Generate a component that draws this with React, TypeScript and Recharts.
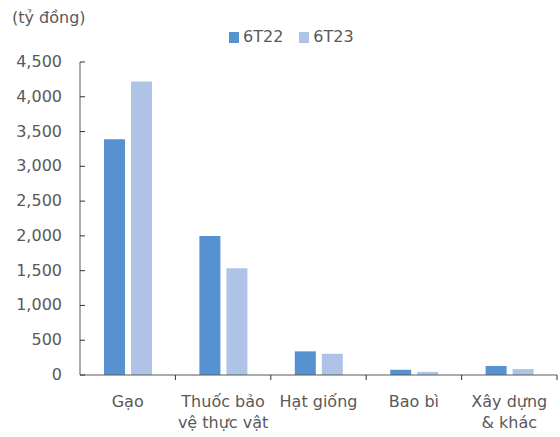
import { BarChart, Bar, XAxis, YAxis } from 'recharts'

const categories = ['Gạo', 'Thuốc bảo\nvệ thực vật', 'Hạt giống', 'Bao bì', 'Xây dựng\n& khác']
const values6T22 = [3390, 2000, 340, 75, 130]
const values6T23 = [4220, 1535, 305, 45, 85]
const yTicks = [0, 500, 1000, 1500, 2000, 2500, 3000, 3500, 4000, 4500]
const seriesNames = ['6T22', '6T23']
const seriesColors = ['#5592CF', '#AEC3E6']
const unitLabel = '(tỷ đồng)'

const data = categories.map((c, i) => ({ name: c, a: values6T22[i], b: values6T23[i] }))

const TEXT = '#595959'
const FONT = '"DejaVu Sans", Verdana, sans-serif'

function YTick(props: any) {
  const { x, y, payload } = props
  return (
    <g>
      <line x1={x} y1={y} x2={x + 5} y2={y} stroke="#333" strokeWidth={1} />
      <text x={x - 18} y={y} dy={5} textAnchor="end" fill={TEXT} fontSize={16} fontFamily={FONT}>
        {Number(payload.value).toLocaleString('en-US')}
      </text>
    </g>
  )
}

function XTick(props: any) {
  const { x, y, payload } = props
  const half = payload.offset ?? 47.7
  const lines = String(payload.value).split('\n')
  return (
    <g>
      <line x1={x + half} y1={y} x2={x + half} y2={y + 5} stroke="#333" strokeWidth={1} />
      {lines.map((l, i) => (
        <text key={i} x={x} y={y + 32 + i * 21} textAnchor="middle" fill={TEXT} fontSize={16} fontFamily={FONT}>
          {l}
        </text>
      ))}
    </g>
  )
}

export default function App() {
  return (
    <div style={{ position: 'relative', width: 560, height: 437, background: '#fff', fontFamily: FONT }}>
      <style>{`body{margin:0}`}</style>
      <div style={{ position: 'absolute', left: 12, top: 8, fontSize: 16, color: TEXT, lineHeight: '20px' }}>
        {unitLabel}
      </div>
      <div style={{ position: 'absolute', left: 229, top: 27, display: 'flex', alignItems: 'center', fontSize: 16, color: TEXT, lineHeight: '20px' }}>
        {seriesNames.map((n, i) => (
          <div key={n} style={{ display: 'flex', alignItems: 'center', marginRight: 16 }}>
            <span style={{ width: 10, height: 11, background: seriesColors[i], display: 'inline-block', marginRight: 4 }} />
            <span>{n}</span>
          </div>
        ))}
      </div>
      <BarChart width={560} height={437} data={data} margin={{ top: 62, right: 3, bottom: 2, left: 0 }}
        barSize={21} barGap={6}>
        <YAxis domain={[0, 4500]} ticks={yTicks} width={80} interval={0}
          axisLine={{ stroke: '#595959' }} tickLine={false} tickSize={0} tickMargin={0}
          tick={<YTick />} />
        <XAxis dataKey="name" interval={0} height={60} axisLine={{ stroke: '#595959' }} tickLine={false}
          tickSize={0} tickMargin={0} tick={<XTick />} />
        <Bar dataKey="a" name={seriesNames[0]} fill={seriesColors[0]} isAnimationActive={false} />
        <Bar dataKey="b" name={seriesNames[1]} fill={seriesColors[1]} isAnimationActive={false} />
      </BarChart>
    </div>
  )
}
